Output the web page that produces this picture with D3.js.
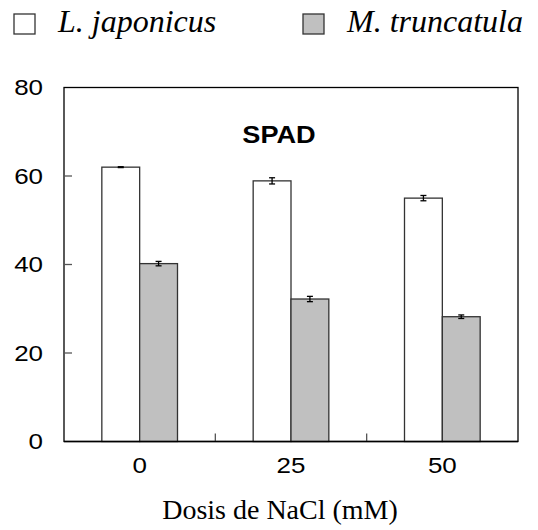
<!DOCTYPE html>
<html>
<head>
<meta charset="utf-8">
<script src="https://cdn.jsdelivr.net/npm/d3@7"></script>
<style>
  html, body { margin: 0; padding: 0; background: #fff; }
  svg { display: block; }
</style>
</head>
<body>
<svg id="chart" width="538" height="530"></svg>
<script>
const categories = ["0", "25", "50"];
const seriesNames = ["L. japonicus", "M. truncatula"];
const japonicusValues = [62.0, 58.9, 55.0];
const japonicusErrors = [0.1, 0.7, 0.6];
const truncatulaValues = [40.2, 32.2, 28.2];
const truncatulaErrors = [0.5, 0.6, 0.4];
const yTicks = [0, 20, 40, 60, 80];
const seriesColors = ["#ffffff", "#c0c0c0"];

(function () {
const svg = d3.select("#chart");
const pLeft = 64, pRight = 518, pTop = 87.5, pBottom = 441.5;
const SX = 1.18; // horizontal stretch of sans text in the reference
const place = (x, yy) => `translate(${x},${yy}) scale(${SX},1)`;

const x0 = d3.scaleBand().domain(categories).range([pLeft, pRight]).padding(0);
const x1 = d3.scaleBand().domain(seriesNames).range([0, x0.bandwidth()]).paddingInner(0).paddingOuter(1);
const y = d3.scaleLinear().domain([0, 80]).range([pBottom, pTop]);

const data = categories.map((c, i) => ({
  cat: c,
  vals: [
    {s: seriesNames[0], v: japonicusValues[i], e: japonicusErrors[i], color: seriesColors[0]},
    {s: seriesNames[1], v: truncatulaValues[i], e: truncatulaErrors[i], color: seriesColors[1]}
  ]
}));

// frame
svg.append("rect").attr("x", pLeft).attr("y", pTop).attr("width", pRight - pLeft).attr("height", pBottom - pTop)
  .attr("fill", "none").attr("stroke", "#000").attr("stroke-width", 1.3);

// y ticks (inward)
svg.append("g").selectAll("line").data(yTicks.filter(t => t > 0 && t < 80)).join("line")
  .attr("x1", pLeft).attr("x2", pLeft + 8).attr("y1", d => y(d)).attr("y2", d => y(d))
  .attr("stroke", "#555").attr("stroke-width", 1.3);
svg.append("g").selectAll("text").data(yTicks).join("text")
  .attr("transform", d => place(pLeft - 21, y(d))).attr("dy", "0.36em")
  .attr("text-anchor", "end").attr("font-family", "Liberation Sans, Arial, sans-serif")
  .attr("font-size", 22).attr("fill", "#000").text(d => d);

// x ticks at group boundaries (inward)
const bounds = categories.slice(1).map(c => x0(c));
svg.append("g").selectAll("line").data(bounds).join("line")
  .attr("x1", d => d).attr("x2", d => d).attr("y1", pBottom).attr("y2", pBottom - 8)
  .attr("stroke", "#555").attr("stroke-width", 1.3);

// bars
const groups = svg.append("g").selectAll("g").data(data).join("g")
  .attr("transform", d => `translate(${x0(d.cat)},0)`);
groups.selectAll("rect").data(d => d.vals).join("rect")
  .attr("x", d => x1(d.s)).attr("width", x1.bandwidth())
  .attr("y", d => y(d.v)).attr("height", d => y(0) - y(d.v))
  .attr("fill", d => d.color).attr("stroke", "#333").attr("stroke-width", 1.3);

// error bars
const eb = groups.selectAll("g.err").data(d => d.vals).join("g").attr("class", "err");
eb.append("line")
  .attr("x1", d => x1(d.s) + x1.bandwidth() / 2).attr("x2", d => x1(d.s) + x1.bandwidth() / 2)
  .attr("y1", d => y(d.v + d.e)).attr("y2", d => y(d.v - d.e))
  .attr("stroke", "#000").attr("stroke-width", 1.3);
eb.selectAll("line.cap").data(d => [{d, v: d.v + d.e}, {d, v: d.v - d.e}]).join("line").attr("class", "cap")
  .attr("x1", o => x1(o.d.s) + x1.bandwidth() / 2 - 3).attr("x2", o => x1(o.d.s) + x1.bandwidth() / 2 + 3)
  .attr("y1", o => y(o.v)).attr("y2", o => y(o.v))
  .attr("stroke", "#000").attr("stroke-width", 1.3);

// bottom axis line
svg.append("line").attr("x1", pLeft).attr("x2", pRight).attr("y1", pBottom).attr("y2", pBottom)
  .attr("stroke", "#000").attr("stroke-width", 1.5);

// x labels
svg.append("g").selectAll("text").data(categories).join("text")
  .attr("transform", d => place(x0(d) + x0.bandwidth() / 2, 473))
  .attr("text-anchor", "middle").attr("font-family", "Liberation Sans, Arial, sans-serif")
  .attr("font-size", 22).attr("fill", "#000").text(d => d);

// x title
svg.append("text").attr("x", 280).attr("y", 519).attr("text-anchor", "middle")
  .attr("font-family", "Liberation Serif, 'Times New Roman', serif").attr("font-size", 28)
  .attr("fill", "#000").text("Dosis de NaCl (mM)");

// SPAD label
svg.append("text").attr("transform", place(279, 143)).attr("text-anchor", "middle")
  .attr("font-family", "Liberation Sans, Arial, sans-serif").attr("font-weight", "bold")
  .attr("font-size", 23).attr("fill", "#000").text("SPAD");

// legend
const legendX = [14, 303];
const lg = svg.append("g").selectAll("g").data(seriesNames).join("g")
  .attr("transform", (d, i) => `translate(${legendX[i]},0)`);
lg.append("rect").attr("x", 0).attr("y", 14).attr("width", 21).attr("height", 20)
  .attr("fill", (d, i) => seriesColors[i]).attr("stroke", "#333").attr("stroke-width", 1.3);
lg.append("text").attr("x", 44).attr("y", 32)
  .attr("font-family", "Liberation Serif, 'Times New Roman', serif").attr("font-style", "italic")
  .attr("font-size", 32).attr("fill", "#000").text(d => d);
})();
</script>
</body>
</html>
